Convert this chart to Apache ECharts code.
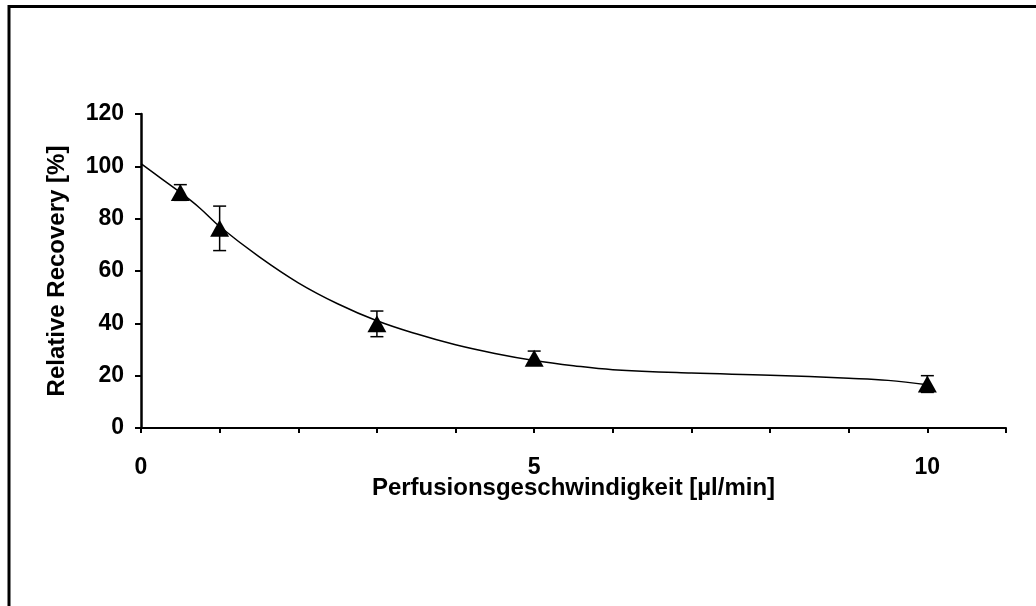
<!DOCTYPE html>
<html>
<head>
<meta charset="utf-8">
<script src="https://cdn.jsdelivr.net/npm/echarts@6/dist/echarts.min.js"></script>
<style>
  html, body { margin: 0; padding: 0; background: #fff; }
  #chart { width: 1036px; height: 606px; }
</style>
</head>
<body>
<div id="chart"></div>
<script>
// Measured recovery (mean and standard deviation) per perfusion rate
const flowRates = [0.5, 1, 3, 5, 10];
const recoveryMean = [90, 76.3, 39.8, 26.7, 16.8];
const recoverySd = [3, 8.5, 4.9, 2.7, 3.2];

// Fitted curve through the measurements
const curveX = [0, 0.25, 0.5, 0.75, 1, 1.5, 2, 2.5, 3, 3.5, 4, 4.5, 5, 5.5, 6, 7, 8, 9, 9.5, 10];
const curveY = [101, 95.5, 90, 84, 77, 65.5, 55.5, 47.5, 41, 36, 31.8, 28.5, 25.8, 23.8, 22.3, 21, 20.2, 19, 18.2, 16.5];

const xTickLabels = ['0', '5', '10'];
const yTicks = [0, 20, 40, 60, 80, 100, 120];

const FONT = '"Liberation Sans", Arial, sans-serif';

const chart = echarts.init(document.getElementById('chart'), null, { renderer: 'canvas' });

const points = flowRates.map((x, i) => [x, recoveryMean[i]]);
const errors = flowRates.map((x, i) => [x, recoveryMean[i] - recoverySd[i], recoveryMean[i] + recoverySd[i]]);
const curve = curveX.map((x, i) => [x, curveY[i]]);

chart.setOption({
  animation: false,
  backgroundColor: '#fff',
  graphic: [{
    type: 'polyline',
    shape: { points: [[9, 606], [9, 6.5], [1036, 6.5]] },
    style: { stroke: '#000', lineWidth: 3, fill: null }
  }],
  grid: { left: 141, right: 30, top: 114, bottom: 178, containLabel: false },
  xAxis: {
    type: 'value',
    min: 0, max: 11, interval: 1,
    name: 'Perfusionsgeschwindigkeit [µl/min]',
    nameLocation: 'middle',
    nameGap: 48,
    nameMoveOverlap: false,
    nameTextStyle: { fontFamily: FONT, fontWeight: 'bold', fontSize: 24, color: '#000' },
    axisLine: { onZero: false, lineStyle: { color: '#000', width: 2 } },
    axisTick: { show: true, inside: false, length: 5, lineStyle: { color: '#000', width: 2 } },
    axisLabel: {
      margin: 28,
      fontFamily: FONT, fontWeight: 'bold', fontSize: 23, color: '#000',
      formatter: v => (xTickLabels.indexOf(String(v)) >= 0 ? String(v) : '')
    },
    splitLine: { show: false }
  },
  yAxis: {
    type: 'value',
    min: yTicks[0], max: yTicks[yTicks.length - 1], interval: 20,
    name: 'Relative Recovery [%]',
    nameLocation: 'middle',
    nameGap: 72,
    nameMoveOverlap: false,
    nameTextStyle: { fontFamily: FONT, fontWeight: 'bold', fontSize: 24, color: '#000' },
    axisLine: { show: true, lineStyle: { color: '#000', width: 2.5 } },
    axisTick: { show: true, inside: false, length: 6, lineStyle: { color: '#000', width: 2 } },
    axisLabel: { margin: 17, fontFamily: FONT, fontWeight: 'bold', fontSize: 23, color: '#000' },
    splitLine: { show: false }
  },
  series: [
    {
      type: 'line',
      data: curve,
      smooth: 0.4,
      showSymbol: false,
      lineStyle: { color: '#000', width: 1.5 },
      z: 2
    },
    {
      type: 'custom',
      data: errors,
      z: 3,
      renderItem: function (params, api) {
        const x = api.value(0);
        const lo = api.coord([x, api.value(1)]);
        const hi = api.coord([x, api.value(2)]);
        const cap = 6.5;
        const style = { stroke: '#000', lineWidth: 1.5 };
        return {
          type: 'group',
          children: [
            { type: 'line', shape: { x1: lo[0], y1: lo[1], x2: hi[0], y2: hi[1] }, style },
            { type: 'line', shape: { x1: hi[0] - cap, y1: hi[1], x2: hi[0] + cap, y2: hi[1] }, style },
            { type: 'line', shape: { x1: lo[0] - cap, y1: lo[1], x2: lo[0] + cap, y2: lo[1] }, style }
          ]
        };
      }
    },
    {
      type: 'scatter',
      data: points,
      symbol: 'triangle',
      symbolSize: [19, 17],
      itemStyle: { color: '#000', opacity: 1 },
      z: 4
    }
  ]
});
</script>
</body>
</html>
